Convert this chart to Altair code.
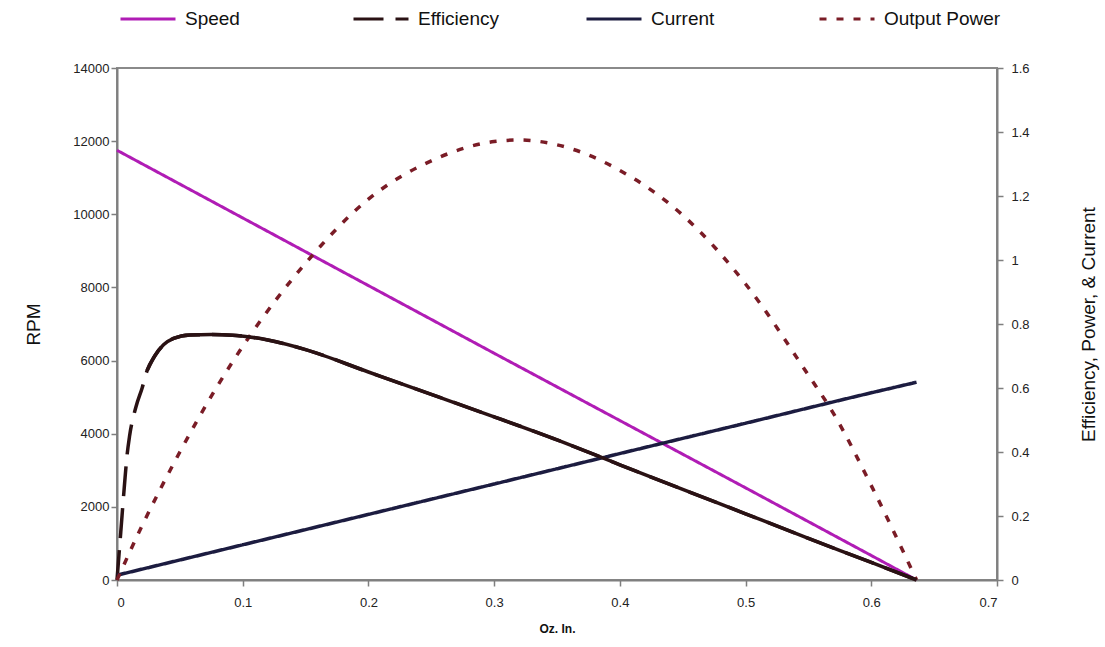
import altair as alt
import pandas as pd

# Motor performance curves versus load torque (oz-in)
series_order = ["Speed", "Efficiency", "Current", "Output Power"]
series_colors = ["#B01CB5", "#2A1214", "#1C1C40", "#7A1C26"]
series_dashes = [[1, 0], [30, 12], [1, 0], [7, 10]]

speed_x = [0.0, 0.1, 0.2, 0.3, 0.4, 0.5, 0.6, 0.636]
speed_rpm = [11750, 9900, 8050, 6200, 4360, 2520, 670, 0]

eff_x = [0.0, 0.003, 0.006, 0.008, 0.01, 0.015, 0.02, 0.024, 0.03, 0.037, 0.045,
         0.058, 0.075, 0.092, 0.12, 0.15, 0.2, 0.25, 0.3, 0.35, 0.4,
         0.45, 0.5, 0.55, 0.6, 0.636]
eff_val = [0.0, 0.15, 0.3, 0.39, 0.45, 0.54, 0.6, 0.655, 0.70, 0.735, 0.755,
           0.766, 0.767, 0.765, 0.75, 0.72, 0.65, 0.58, 0.51, 0.438, 0.36,
           0.283, 0.207, 0.13, 0.055, 0.0]

cur_x = [0.0, 0.1, 0.2, 0.3, 0.384, 0.5, 0.6, 0.636]
cur_val = [0.015, 0.11, 0.205, 0.30, 0.38, 0.49, 0.585, 0.618]

pow_x = [0.0, 0.02, 0.05, 0.078, 0.1, 0.15, 0.2, 0.25, 0.3, 0.32, 0.35, 0.4,
         0.45, 0.5, 0.55, 0.57, 0.6, 0.636]
pow_val = [0.0, 0.17, 0.40, 0.594, 0.73, 0.99, 1.19, 1.31, 1.37, 1.375, 1.36, 1.28,
           1.14, 0.925, 0.64, 0.52, 0.295, 0.0]

rows = []
for name, xs, ys in [("Speed", speed_x, speed_rpm),
                     ("Efficiency", eff_x, eff_val),
                     ("Current", cur_x, cur_val),
                     ("Output Power", pow_x, pow_val)]:
    for i, (xv, yv) in enumerate(zip(xs, ys)):
        rows.append({"series": name, "torque": xv, "value": yv, "order": i})
df = pd.DataFrame(rows)

FONT = "Liberation Sans"

legend = alt.Legend(
    title=None,
    orient="none",
    legendX=2,
    legendY=-78,
    direction="horizontal",
    columns=4,
    gridAlign="all",
    columnPadding=45,
    symbolType="stroke",
    symbolSize=3025,
    symbolStrokeWidth=3,
    labelFont=FONT,
    labelFontSize=19,
    labelColor="#111111",
    labelOffset=8,
    labelLimit=300,
)

color = alt.Color("series:N", scale=alt.Scale(domain=series_order, range=series_colors),
                  legend=legend)
dash = alt.StrokeDash("series:N", scale=alt.Scale(domain=series_order, range=series_dashes),
                      legend=legend)

x_enc = alt.X(
    "torque:Q",
    scale=alt.Scale(domain=[0, 0.7], nice=False),
    axis=alt.Axis(
        values=[0, 0.1, 0.2, 0.3, 0.4, 0.5, 0.6, 0.7],
        format="~g",
        title="Oz. In.",
        titleFontSize=12,
        titleFontWeight="bold",
        titleX=440,
        titleY=48,
        titleBaseline="middle",
        labelPadding=10,
    ),
)

base = alt.Chart(df)

speed = base.transform_filter(alt.datum.series == "Speed").mark_line(strokeWidth=3).encode(
    x=x_enc,
    y=alt.Y(
        "value:Q",
        scale=alt.Scale(domain=[0, 14000], nice=False),
        axis=alt.Axis(
            orient="left",
            values=list(range(0, 14001, 2000)),
            format="d",
            title="RPM",
            titleFontSize=19,
            titleFontWeight="normal",
            titleAngle=270,
            titleX=-84,
            titleY=256,
            titleAlign="center",
            titleBaseline="middle",
        ),
    ),
    color=color,
    strokeDash=dash,
    order="order:Q",
)

right_y = alt.Y(
    "value:Q",
    scale=alt.Scale(domain=[0, 1.6], nice=False),
    axis=alt.Axis(
        orient="right",
        values=[0, 0.2, 0.4, 0.6, 0.8, 1.0, 1.2, 1.4, 1.6],
        format="~g",
        title="Efficiency, Power, & Current",
        titleFontSize=19,
        titleFontWeight="normal",
        titleAngle=270,
        titleX=91,
        titleY=256,
        titleAlign="center",
        titleBaseline="middle",
        labelPadding=8,
    ),
)

others = base.transform_filter(alt.datum.series != "Speed").mark_line(
    strokeWidth=3.5, interpolate="monotone"
).encode(
    x=x_enc,
    y=right_y,
    color=color,
    strokeDash=dash,
    order="order:Q",
)

# past the initial rise the efficiency curve is drawn solid
eff_solid = base.transform_filter(
    (alt.datum.series == "Efficiency") & (alt.datum.torque >= 0.024)
).mark_line(strokeWidth=3.5, color=series_colors[1], interpolate="monotone").encode(
    x=x_enc,
    y=right_y,
    order="order:Q",
)

right_layer = alt.layer(others, eff_solid)

chart = alt.layer(speed, right_layer).resolve_scale(y="independent").properties(
    width=880,
    height=512,
    autosize="none",
    padding={"left": 117, "top": 68, "right": 108, "bottom": 67},
    background="white",
).configure_view(
    stroke="#8a8a8a",
    strokeWidth=2,
).configure_axis(
    grid=False,
    domainColor="#7f7f7f",
    domainWidth=2,
    tickColor="#7f7f7f",
    tickWidth=1.5,
    tickSize=6,
    labelFont=FONT,
    labelFontSize=13,
    labelColor="#222222",
    titleFont=FONT,
    titleColor="#111111",
)

chart.save("out.html", embed_options={"renderer": "svg", "actions": False})
